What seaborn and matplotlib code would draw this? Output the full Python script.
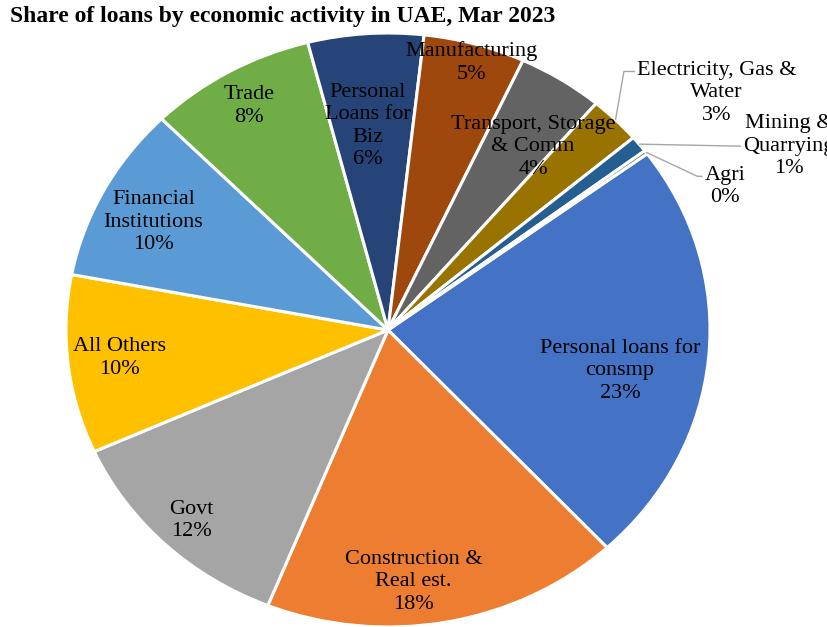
import numpy as np
import matplotlib
matplotlib.use("Agg")
import matplotlib.pyplot as plt
import seaborn as sns

# Loan shares by economic activity (percent of total), clockwise order
categories = [
    "Personal loans for\nconsmp",
    "Construction &\nReal est.",
    "Govt",
    "All Others",
    "Financial\nInstitutions",
    "Trade",
    "Personal\nLoans for\nBiz",
    "Manufacturing",
    "Transport, Storage\n& Comm",
    "Electricity, Gas &\nWater",
    "Mining &\nQuarrying",
    "Agri",
]
shares = [23.2, 18.0, 12.2, 9.7, 9.6, 8.4, 5.8, 5.1, 4.3, 2.6, 0.9, 0.2]
title = "Share of loans by economic activity in UAE, Mar 2023"

# Office-style palette
colors = ["#4472C4", "#ED7D31", "#A5A5A5", "#FFC000", "#5B9BD5", "#70AD47",
          "#264478", "#9E480E", "#636363", "#997300", "#255E91", "#43682B"]

# Label placement: radial distance (fraction of radius) and angular nudge (deg)
label_radius = [0.733, 0.852, 0.886, 0.838, 0.813, 0.868, 0.690, 0.937, 0.764, 1.296, 1.390, 1.152]
label_nudge = [5.4, 5.1, -0.3, 0.2, -1.6, -0.2, -1.3, 0.5, 3.6, 7.0, 12.3, 12.0]
# Leader lines for outside labels: slice index -> (label line to attach, elbow length px)
leaders = {9: (0, 11), 10: (1, 0), 11: (0, 5)}

sns.set_theme(style="white")
plt.rcParams["font.family"] = ["Liberation Serif", "DejaVu Serif"]

W, H = 827, 627
cx, cy, rx, ry = 388, 330, 322, 297
first_angle = 53.6  # clockwise from 12 o'clock

fig = plt.figure(figsize=(W / 100, H / 100), dpi=100)
ax = fig.add_axes([0, 0, 1, 1])
wedges, _ = ax.pie(
    shares, colors=colors, startangle=90 - first_angle, counterclock=False,
    radius=1, center=(0, 0),
    wedgeprops=dict(edgecolor="white", linewidth=2.2),
)
ax.set_aspect("auto")
ax.set_xlim(-cx / rx, (W - cx) / rx)
ax.set_ylim(-(H - cy) / ry, cy / ry)
ax.axis("off")

total = sum(shares)
fracs = np.array(shares) / total
ends = first_angle + 360 * np.cumsum(fracs)
starts = ends - 360 * fracs
mids = (starts + ends) / 2

texts = []
for i, (name, f) in enumerate(zip(categories, fracs)):
    th = np.deg2rad(mids[i] + label_nudge[i])
    r = label_radius[i]
    t = ax.text(r * np.sin(th), r * np.cos(th), f"{name}\n{f * 100:.0f}%",
                ha="center", va="center", multialignment="center",
                fontsize=16, color="black", linespacing=1.25)
    texts.append(t)

fig.text(10 / W, 1 - 6 / H, title, ha="left", va="top",
         fontsize=17, fontweight="bold", color="black")

fig.canvas.draw()
renderer = fig.canvas.get_renderer()
inv = ax.transData.inverted()
for i, (line_idx, elbow_px) in leaders.items():
    th = np.deg2rad(mids[i])
    sx, sy = 1.0 * np.sin(th), 1.0 * np.cos(th)
    bb = texts[i].get_window_extent(renderer)
    n_lines = texts[i].get_text().count("\n") + 1
    lh = bb.height / n_lines
    ypix = bb.y1 - (line_idx + 0.5) * lh
    ex, ey = inv.transform((bb.x0 - 2, ypix))
    kx, _ = inv.transform((bb.x0 - 2 - elbow_px, ypix))
    ax.plot([sx, kx, ex], [sy, ey, ey], color="#A6A6A6", lw=1.0,
            solid_capstyle="butt", zorder=1)

fig.savefig("out.png", dpi=100)
